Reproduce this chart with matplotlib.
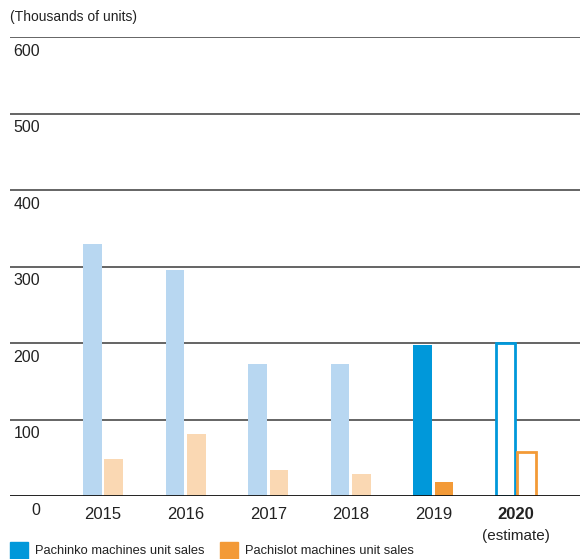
import numpy as np
import matplotlib
matplotlib.use('Agg')
import matplotlib.pyplot as plt
from matplotlib import transforms

plt.rcParams['font.family'] = ['Liberation Sans', 'DejaVu Sans']

# Unit sales (thousands of units)
years = ['2015', '2016', '2017', '2018', '2019', '2020']
pachinko = [330, 296, 173, 172, 197, 200]
pachislot = [48, 81, 34, 29, 18, 58]
y_ticks = [0, 100, 200, 300, 400, 500, 600]

blue_light = '#B8D7F1'
orange_light = '#FAD8B3'
blue = '#0098DA'
orange = '#F39A37'

fig = plt.figure(figsize=(5.82, 5.59), dpi=100)
ax = fig.add_axes([10 / 582, 1 - 496 / 559, 570 / 582, (496 - 37) / 559])

x = np.arange(len(years))
w = 0.224
off = 0.130

# gridlines behind bars
for t in y_ticks[1:]:
    ax.axhline(t, color='#3a3a3a', lw=1.1, zorder=0)
ax.axhline(0, color='#111111', lw=1.3, zorder=3)

pk_colors = [blue_light] * 4 + [blue]
ps_colors = [orange_light] * 4 + [orange]
ax.bar(x[:5] - off, pachinko[:5], width=w, color=pk_colors, zorder=2)
ax.bar(x[:5] + off, pachislot[:5], width=w, color=ps_colors, zorder=2)

# estimate year as outlined bars
ax.bar(x[5] - off, pachinko[5], width=w, facecolor='white', edgecolor=blue, lw=2, zorder=2)
ax.bar(x[5] + off, pachislot[5], width=w, facecolor='white', edgecolor=orange, lw=2, zorder=2)

ax.set_xlim(-1.126, 5.775)
ax.set_ylim(0, 600)
ax.axis('off')

# y labels sit under their gridline
trans = transforms.blended_transform_factory(ax.transAxes, ax.transData)
for t in y_ticks:
    ax.annotate(str(t), xy=(30 / 570, t), xycoords=trans, xytext=(0, -5),
                textcoords='offset points', ha='right', va='top',
                fontsize=11.5, color='#222222')

for i, yr in enumerate(years):
    bold = yr == '2020'
    ax.annotate(yr, xy=(i, 0), xycoords='data', xytext=(0, -8),
                textcoords='offset points', ha='center', va='top',
                fontsize=12, color='#222222', fontweight='bold' if bold else 'normal')
ax.annotate('(estimate)', xy=(5, 0), xycoords='data', xytext=(0, -24),
            textcoords='offset points', ha='center', va='top',
            fontsize=11, color='#222222')

fig.text(10 / 582, 1 - 17 / 559, '(Thousands of units)', ha='left', va='center',
         fontsize=10, color='#222222')

# legend
for lx, col, label in [(10, blue, 'Pachinko machines unit sales'),
                       (220, orange, 'Pachislot machines unit sales')]:
    fig.patches.append(plt.Rectangle((lx / 582, 0), 18 / 582, 17 / 559,
                                     transform=fig.transFigure, color=col))
    fig.text((lx + 25) / 582, 1 - 551 / 559, label, ha='left', va='center',
             fontsize=9.3, color='#222222')

fig.savefig('out.png', dpi=100)
